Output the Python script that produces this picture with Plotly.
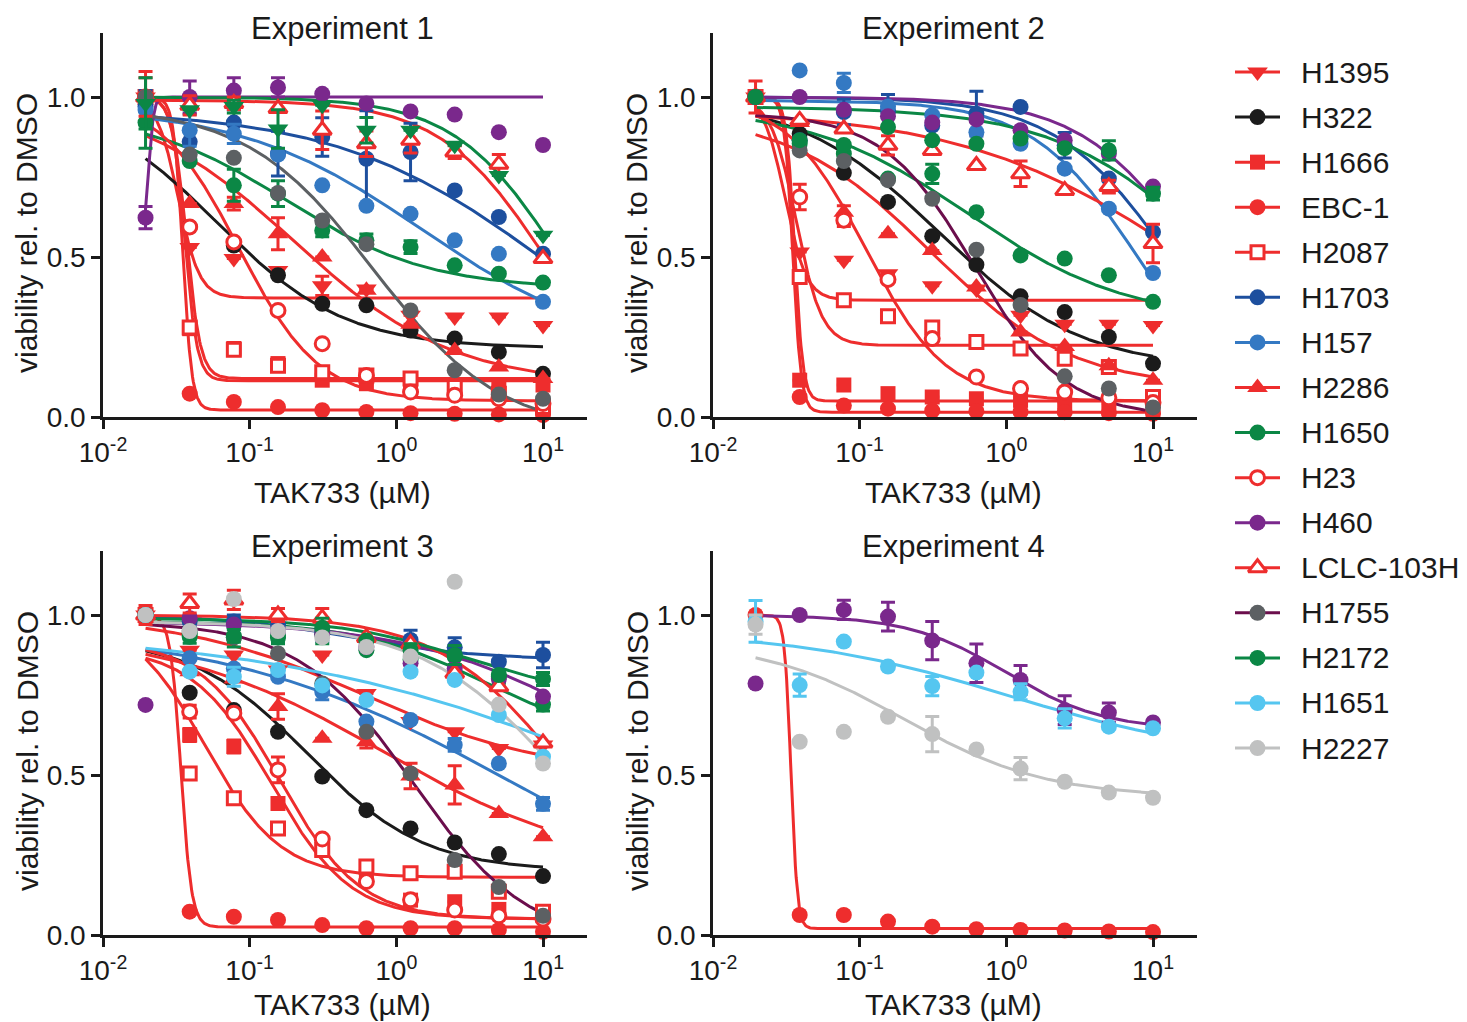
import numpy as np
import plotly.graph_objects as go

# ---------------- data ----------------
DOSES = [0.0195, 0.039, 0.078, 0.156, 0.3125, 0.625, 1.25, 2.5, 5, 10]
CELL_LINES = ["H1395", "H322", "H1666", "EBC-1", "H2087", "H1703", "H157", "H2286",
              "H1650", "H23", "H460", "LCLC-103H", "H1755", "H2172", "H1651", "H2227"]
TICK_X = [0.01, 0.1, 1, 10]
TICK_X_TEXT = ["10<sup>-2</sup>", "10<sup>-1</sup>", "10<sup>0</sup>", "10<sup>1</sup>"]
TICK_Y = [0, 0.5, 1.0]
TICK_Y_TEXT = ["0.0", "0.5", "1.0"]
TITLES = ["Experiment 1", "Experiment 2", "Experiment 3", "Experiment 4"]

# measured viability (mean) per experiment
EXP1_VALUES = {
    "H1395": [1.0, 0.53, 0.495, 0.458, 0.41, 0.40, 0.318, 0.3125, 0.3125, 0.286],
    "H322": [1.0, 0.594, 0.536, 0.443, 0.354, 0.349, 0.27, 0.245, 0.203, 0.135],
    "H1666": [1.0, 0.276, 0.214, 0.167, 0.115, 0.104, 0.11, 0.094, 0.10, 0.10],
    "EBC-1": [1.0, 0.073, 0.047, 0.031, 0.021, 0.016, 0.012, 0.01, 0.008, 0.006],
    "H2087": [1.0, 0.28, 0.21, 0.16, 0.14, 0.13, 0.12, 0.094, 0.073, 0.031],
    "H1703": [0.97, 0.86, 0.92, 0.823, 0.875, 0.807, 0.828, 0.708, 0.625, 0.51],
    "H157": [0.96, 0.896, 0.885, 0.82, 0.724, 0.66, 0.635, 0.552, 0.51, 0.36],
    "H2286": [1.0, 0.667, 0.667, 0.573, 0.50, 0.396, 0.29, 0.208, 0.156, 0.12],
    "H1650": [0.92, 0.80, 0.724, 0.698, 0.583, 0.552, 0.531, 0.474, 0.448, 0.42],
    "H23": [1.0, 0.594, 0.547, 0.333, 0.229, 0.13, 0.078, 0.068, 0.057, 0.042],
    "H460": [0.623, 1.0, 1.02, 1.03, 1.01, 0.98, 0.955, 0.945, 0.89, 0.85],
    "LCLC-103H": [1.0, 0.974, 0.98, 0.964, 0.896, 0.854, 0.865, 0.828, 0.79, 0.495],
    "H1755": [1.0, 0.82, 0.81, 0.70, 0.614, 0.54, 0.333, 0.146, 0.07, 0.057],
    "H2172": [0.98, 0.96, 0.97, 0.90, 0.974, 0.896, 0.896, 0.849, 0.755, 0.568],
}
EXP2_VALUES = {
    "H1395": [1.0, 0.516, 0.49, 0.448, 0.41, 0.40, 0.318, 0.29, 0.29, 0.286],
    "H322": [1.0, 0.885, 0.763, 0.672, 0.565, 0.476, 0.377, 0.328, 0.25, 0.167],
    "H1666": [1.0, 0.115, 0.10, 0.073, 0.0625, 0.057, 0.052, 0.047, 0.042, 0.031],
    "EBC-1": [1.0, 0.0625, 0.036, 0.026, 0.02, 0.018, 0.016, 0.015, 0.012, 0.01],
    "H2087": [1.0, 0.4375, 0.365, 0.315, 0.28, 0.234, 0.214, 0.182, 0.156, 0.0625],
    "H1703": [1.0, 0.865, 0.953, 0.958, 0.911, 0.948, 0.969, 0.849, 0.745, 0.578],
    "H157": [1.0, 1.083, 1.044, 0.97, 0.943, 0.89, 0.854, 0.776, 0.651, 0.45],
    "H2286": [1.0, 0.92, 0.64, 0.573, 0.52, 0.406, 0.266, 0.22, 0.16, 0.115],
    "H1650": [1.0, 0.854, 0.823, 0.745, 0.76, 0.64, 0.505, 0.495, 0.443, 0.36],
    "H23": [1.0, 0.6875, 0.615, 0.43, 0.245, 0.125, 0.089, 0.078, 0.06, 0.045],
    "H460": [1.0, 1.0, 0.96, 0.94, 0.92, 0.93, 0.896, 0.865, 0.823, 0.72],
    "LCLC-103H": [1.0, 0.927, 0.90, 0.849, 0.833, 0.786, 0.76, 0.708, 0.72, 0.542],
    "H1755": [1.0, 0.833, 0.80, 0.74, 0.682, 0.523, 0.35, 0.127, 0.089, 0.03],
    "H2172": [1.0, 0.865, 0.85, 0.906, 0.865, 0.854, 0.87, 0.84, 0.833, 0.698],
}
EXP3_VALUES = {
    "H1395": [1.0, 0.89, 0.875, 0.828, 0.875, 0.755, 0.667, 0.635, 0.583, 0.594],
    "H322": [1.0, 0.757, 0.703, 0.635, 0.495, 0.39, 0.333, 0.289, 0.253, 0.184],
    "H1666": [1.0, 0.625, 0.589, 0.411, 0.266, 0.182, 0.109, 0.104, 0.08, 0.06],
    "EBC-1": [1.0, 0.073, 0.057, 0.047, 0.031, 0.021, 0.021, 0.021, 0.016, 0.01],
    "H2087": [1.0, 0.505, 0.427, 0.333, 0.266, 0.214, 0.193, 0.198, 0.135, 0.073],
    "H1703": [1.0, 0.98, 0.98, 0.97, 0.948, 0.917, 0.922, 0.899, 0.854, 0.875],
    "H157": [1.0, 0.865, 0.833, 0.807, 0.76, 0.667, 0.672, 0.594, 0.536, 0.41],
    "H2286": [1.0, 0.823, 0.80, 0.714, 0.615, 0.604, 0.497, 0.469, 0.38, 0.307],
    "H1650": [1.0, 0.932, 0.93, 0.935, 0.94, 0.89, 0.86, 0.87, 0.807, 0.72],
    "H23": [1.0, 0.698, 0.693, 0.516, 0.30, 0.167, 0.11, 0.078, 0.06, 0.05],
    "H460": [0.719, 0.99, 0.97, 0.95, 0.94, 0.90, 0.849, 0.833, 0.80, 0.745],
    "LCLC-103H": [1.0, 1.036, 1.047, 1.0, 0.99, 0.93, 0.91, 0.818, 0.776, 0.60],
    "H1755": [1.0, 0.95, 0.93, 0.88, 0.786, 0.635, 0.505, 0.234, 0.15, 0.06],
    "H2172": [1.0, 0.943, 0.935, 0.93, 0.96, 0.92, 0.89, 0.875, 0.8125, 0.80],
    "H1651": [1.0, 0.823, 0.807, 0.828, 0.78, 0.734, 0.823, 0.797, 0.6875, 0.557],
    "H2227": [1.0, 0.95, 1.05, 0.95, 0.93, 0.90, 0.87, 1.104, 0.72, 0.536],
}
EXP4_VALUES = {
    "H460": [0.786, 1.0, 1.016, 0.995, 0.92, 0.849, 0.797, 0.703, 0.695, 0.664],
    "H1651": [0.98, 0.781, 0.917, 0.839, 0.778, 0.82, 0.76, 0.677, 0.651, 0.646],
    "H2227": [0.97, 0.604, 0.635, 0.682, 0.628, 0.58, 0.52, 0.479, 0.445, 0.429],
    "EBC-1": [1.0, 0.0625, 0.0625, 0.042, 0.026, 0.018, 0.016, 0.014, 0.011, 0.009],
}

# error bars (SD) where visible
EXP1_ERRORS = {
    "H1395": [0.08, 0, 0, 0, 0.03, 0, 0, 0, 0, 0],
    "H460": [0.035, 0.05, 0.04, 0.03, 0, 0, 0, 0, 0, 0],
    "H1703": [0.05, 0, 0.04, 0.07, 0.06, 0.15, 0.09, 0, 0, 0],
    "H157": [0.04, 0.05, 0.03, 0, 0, 0, 0, 0, 0, 0],
    "H1650": [0.08, 0, 0.05, 0.04, 0.02, 0.02, 0.02, 0, 0, 0],
    "H2172": [0.08, 0, 0.02, 0.06, 0, 0.04, 0, 0, 0, 0],
    "H2286": [0, 0, 0.02, 0.05, 0, 0, 0, 0, 0, 0],
    "LCLC-103H": [0.06, 0.03, 0.02, 0, 0.06, 0.04, 0.04, 0.02, 0.03, 0],
}
EXP2_ERRORS = {
    "H1395": [0.05, 0, 0, 0, 0, 0, 0, 0, 0, 0],
    "H23": [0, 0.04, 0.02, 0, 0, 0, 0, 0, 0, 0],
    "H157": [0, 0, 0.03, 0, 0, 0, 0, 0, 0, 0],
    "H1703": [0, 0, 0.04, 0.05, 0.04, 0.07, 0, 0.04, 0, 0],
    "H1650": [0, 0, 0.02, 0, 0.03, 0, 0, 0, 0, 0],
    "H2172": [0, 0, 0, 0, 0, 0, 0, 0, 0.03, 0.02],
    "LCLC-103H": [0, 0, 0, 0.03, 0, 0, 0.04, 0, 0.02, 0.06],
    "H2286": [0, 0, 0.02, 0, 0, 0, 0, 0, 0, 0],
}
EXP3_ERRORS = {
    "H1395": [0.03, 0, 0, 0, 0, 0, 0, 0, 0, 0],
    "LCLC-103H": [0, 0.03, 0.03, 0.02, 0.03, 0, 0, 0, 0, 0],
    "H1703": [0, 0.02, 0.02, 0.02, 0.03, 0, 0.03, 0.03, 0, 0.04],
    "H1650": [0, 0.02, 0.03, 0.02, 0.03, 0, 0, 0, 0.02, 0.02],
    "H2172": [0, 0, 0.02, 0.02, 0.03, 0, 0.02, 0.03, 0, 0.02],
    "H157": [0, 0, 0, 0, 0.025, 0, 0, 0.02, 0, 0.02],
    "H1651": [0, 0, 0.03, 0, 0, 0, 0, 0, 0, 0],
    "H2286": [0, 0, 0, 0.04, 0, 0.02, 0.04, 0.06, 0, 0],
    "H23": [0, 0.02, 0, 0.04, 0, 0, 0, 0, 0, 0],
    "H1666": [0, 0.02, 0.02, 0, 0, 0, 0, 0, 0, 0],
}
EXP4_ERRORS = {
    "H460": [0, 0, 0.03, 0.045, 0.06, 0.06, 0.045, 0.045, 0.03, 0],
    "H1651": [0.065, 0.035, 0, 0, 0.03, 0, 0.025, 0.03, 0, 0],
    "H2227": [0.03, 0, 0, 0, 0.055, 0, 0.035, 0, 0, 0],
}

# fitted 4-parameter logistic curves: [top, bottom, EC50 (uM), Hill slope]
EXP1_FITS = {
    "H1395": [1.0, 0.372, 0.0325, 6], "H322": [1.0, 0.215, 0.06, 1.0],
    "H1666": [1.0, 0.12, 0.037, 9], "EBC-1": [1.0, 0.022, 0.035, 14],
    "H2087": [1.0, 0.113, 0.036, 10], "H1703": [0.96, 0.0, 11, 0.6],
    "H157": [0.97, 0.2, 1.5, 0.7], "H2286": [1.0, 0.1, 0.2, 0.8],
    "H1650": [0.95, 0.4, 0.18, 0.9], "H23": [1.0, 0.05, 0.085, 1.6],
    "H460": [0.55, 1.0, 0.0205, 25], "LCLC-103H": [0.99, 0.0, 10.5, 1.2],
    "H1755": [0.97, -0.05, 0.7, 1.0], "H2172": [1.0, 0.0, 13, 1.2],
}
EXP2_FITS = {
    "H1395": [1.0, 0.365, 0.031, 6], "H322": [1.0, 0.15, 0.35, 0.9],
    "H1666": [1.0, 0.05, 0.036, 15], "EBC-1": [1.0, 0.015, 0.035, 15],
    "H2087": [1.0, 0.224, 0.037, 5], "H1703": [1.0, 0.0, 13, 1.1],
    "H157": [0.99, 0.0, 8, 1.2], "H2286": [0.95, 0.09, 0.3, 0.9],
    "H1650": [0.97, 0.3, 0.55, 0.8], "H23": [1.0, 0.05, 0.11, 1.6],
    "H460": [1.0, 0.0, 20, 1.1], "LCLC-103H": [0.96, 0.0, 20, 0.55],
    "H1755": [0.95, 0.0, 0.6, 1.4], "H2172": [0.97, 0.0, 30, 0.8],
}
EXP3_FITS = {
    "H1395": [1.0, 0.5, 0.6, 0.7], "H322": [0.93, 0.2, 0.25, 1.1],
    "H1666": [0.9, 0.05, 0.14, 1.6], "EBC-1": [1.0, 0.025, 0.034, 12],
    "H2087": [1.0, 0.18, 0.05, 1.7], "H1703": [1.0, 0.86, 0.5, 1.0],
    "H157": [0.96, 0.0, 6, 0.45], "H2286": [0.95, 0.2, 0.8, 0.6],
    "H1650": [0.98, 0.6, 4, 1.0], "H23": [0.92, 0.05, 0.16, 1.6],
    "H460": [0.98, 0.4, 20, 0.7], "LCLC-103H": [1.0, 0.0, 15, 1.0],
    "H1755": [0.98, -0.03, 1.3, 1.1], "H2172": [0.99, 0.74, 3, 1.0],
    "H1651": [0.95, 0.0, 60, 0.35], "H2227": [0.98, 0.0, 14, 0.9],
}
EXP4_FITS = {
    "H460": [1.0, 0.64, 1.0, 1.3], "H1651": [0.95, 0.55, 1.0, 0.6],
    "H2227": [0.92, 0.43, 0.2, 0.9], "EBC-1": [1.0, 0.02, 0.034, 20],
}

# ---------------- styles ----------------
RED = "#ee2d2d"
STYLE = {  # line colour, marker colour, symbol, hollow
    "H1395": (RED, RED, "triangle-down", False),
    "H322": ("#1b1b1b", "#1b1b1b", "circle", False),
    "H1666": (RED, RED, "square", False),
    "EBC-1": (RED, RED, "circle", False),
    "H2087": (RED, RED, "square", True),
    "H1703": ("#1d4f9e", "#1d4f9e", "circle", False),
    "H157": ("#3479c3", "#3479c3", "circle", False),
    "H2286": (RED, RED, "triangle-up", False),
    "H1650": ("#0b8745", "#0b8745", "circle", False),
    "H23": (RED, RED, "circle", True),
    "H460": ("#7a288c", "#7a288c", "circle", False),
    "LCLC-103H": (RED, RED, "triangle-up", True),
    "H1755": ("#6b0e4c", "#5c6063", "circle", False),
    "H2172": ("#0b8745", "#0b8745", "circle", False),
    "H1651": ("#55c6f0", "#55c6f0", "circle", False),
    "H2227": ("#c0c1c1", "#c0c1c1", "circle", False),
}

EXPS = [(EXP1_VALUES, EXP1_ERRORS, EXP1_FITS),
        (EXP2_VALUES, EXP2_ERRORS, EXP2_FITS),
        (EXP3_VALUES, EXP3_ERRORS, EXP3_FITS),
        (EXP4_VALUES, EXP4_ERRORS, EXP4_FITS)]

W, H = 1467, 1022


def px(xs):
    return xs / W


def py(ys):
    return 1 - ys / H


XDOM = [[px(103), px(587)], [px(713), px(1197)]]
YDOM = [[py(417), py(33)], [py(935), py(551)]]
XTITLE_GAP = [75, 69]   # px below the x axis, top / bottom row
FONT = "Arial, Liberation Sans, sans-serif"
INK = "#1a1a1a"


def logistic(x, top, bottom, ec50, hill):
    return bottom + (top - bottom) / (1.0 + (x / ec50) ** hill)


def marker_for(sym, mc, hollow):
    size = 18 if "triangle" in sym else (15 if sym == "square" else 16)
    if hollow:
        return dict(symbol=sym, size=size - 2, color="white", line=dict(color=mc, width=3))
    return dict(symbol=sym, size=size, color=mc, line=dict(width=0))


fig = go.Figure()
xs = np.logspace(np.log10(DOSES[0]), np.log10(DOSES[-1]), 500)

for k, (vals, errs, fits) in enumerate(EXPS):
    ax = "" if k == 0 else str(k + 1)
    xa, ya = "x" + ax, "y" + ax
    for name in CELL_LINES:
        if name not in fits:
            continue
        lc = STYLE[name][0]
        if k == 0 and name == "H1755":
            lc = "#5c6063"
        fig.add_trace(go.Scatter(x=xs, y=logistic(xs, *fits[name]), mode="lines",
                                 line=dict(color=lc, width=3), xaxis=xa, yaxis=ya,
                                 showlegend=False, hoverinfo="skip", cliponaxis=False))
    for name in CELL_LINES:
        if name not in vals:
            continue
        lc, mc, sym, hollow = STYLE[name]
        if k == 0 and name == "H2172":
            sym = "triangle-down"
        e = errs.get(name, [0] * len(DOSES))
        fig.add_trace(go.Scatter(
            x=DOSES, y=vals[name], mode="markers", xaxis=xa, yaxis=ya,
            marker=marker_for(sym, mc, hollow),
            error_y=dict(type="data", array=e, visible=True, color=mc,
                         thickness=3, width=7),
            showlegend=False, hoverinfo="skip", cliponaxis=False))

# ---- legend drawn on its own hidden axes (rows = cell line index) ----
for i, name in enumerate(CELL_LINES):
    lc, mc, sym, hollow = STYLE[name]
    fig.add_trace(go.Scatter(x=[0, 1], y=[i, i], mode="lines", line=dict(color=lc, width=3),
                             xaxis="x5", yaxis="y5", showlegend=False, hoverinfo="skip"))
    fig.add_trace(go.Scatter(x=[0.5], y=[i], mode="markers", marker=marker_for(sym, mc, hollow),
                             xaxis="x5", yaxis="y5", showlegend=False, hoverinfo="skip",
                             cliponaxis=False))

ROW0, ROWSTEP = 72, 45.07
layout = dict(
    width=W, height=H, margin=dict(l=0, r=0, t=0, b=0, autoexpand=False),
    paper_bgcolor="white", plot_bgcolor="white", showlegend=False,
    font=dict(family=FONT, size=28, color=INK),
    xaxis5=dict(domain=[px(1235), px(1280)], range=[0, 1], visible=False, anchor="y5"),
    yaxis5=dict(domain=[py(ROW0 + ROWSTEP * 15.5), py(ROW0 - ROWSTEP * 0.5)],
                range=[15.5, -0.5], visible=False, anchor="x5"),
)
for k in range(4):
    ax = "" if k == 0 else str(k + 1)
    common = dict(ticks="outside", ticklen=9, tickwidth=2.5, tickcolor=INK,
                  showline=True, linewidth=2.5, linecolor=INK, showgrid=False,
                  zeroline=False, tickfont=dict(size=28, family=FONT, color=INK),
                  automargin=False)
    layout["xaxis" + ax] = dict(type="log", range=[-2, 1.3], domain=XDOM[k % 2],
                                anchor="y" + ax, tickvals=TICK_X, ticktext=TICK_X_TEXT,
                                **common)
    layout["yaxis" + ax] = dict(range=[0, 1.2], domain=YDOM[k // 2], anchor="x" + ax,
                                tickvals=TICK_Y, ticktext=TICK_Y_TEXT, **common)
fig.update_layout(**layout)

ann = []
for k in range(4):
    cx = (XDOM[k % 2][0] + XDOM[k % 2][1]) / 2
    top = YDOM[k // 2][1]
    bot = YDOM[k // 2][0]
    ann.append(dict(text=TITLES[k], x=cx - 2 / W, y=top + 5 / H, xref="paper", yref="paper",
                    xanchor="center", yanchor="middle", showarrow=False,
                    font=dict(size=31, family=FONT, color=INK)))
    ann.append(dict(text="TAK733 (µM)", x=cx - 2 / W, y=bot - XTITLE_GAP[k // 2] / H,
                    xref="paper", yref="paper", xanchor="center", yanchor="middle",
                    showarrow=False, font=dict(size=30, family=FONT, color=INK)))
    ann.append(dict(text="viability rel. to DMSO", x=XDOM[k % 2][0] - 76 / W,
                    y=(top + bot) / 2 - 8 / H, xref="paper", yref="paper",
                    xanchor="center", yanchor="middle", textangle=-90, showarrow=False,
                    font=dict(size=30, family=FONT, color=INK)))
for i, name in enumerate(CELL_LINES):
    ann.append(dict(text=name, x=px(1299), y=i, xref="paper", yref="y5",
                    xanchor="left", yanchor="middle", showarrow=False,
                    font=dict(size=30, family=FONT, color=INK)))
fig.update_layout(annotations=ann)

fig.write_html(
    "out.html",
    config={"displayModeBar": False},
    post_script="document.body.style.margin='0';document.body.style.overflow='hidden';",
)
